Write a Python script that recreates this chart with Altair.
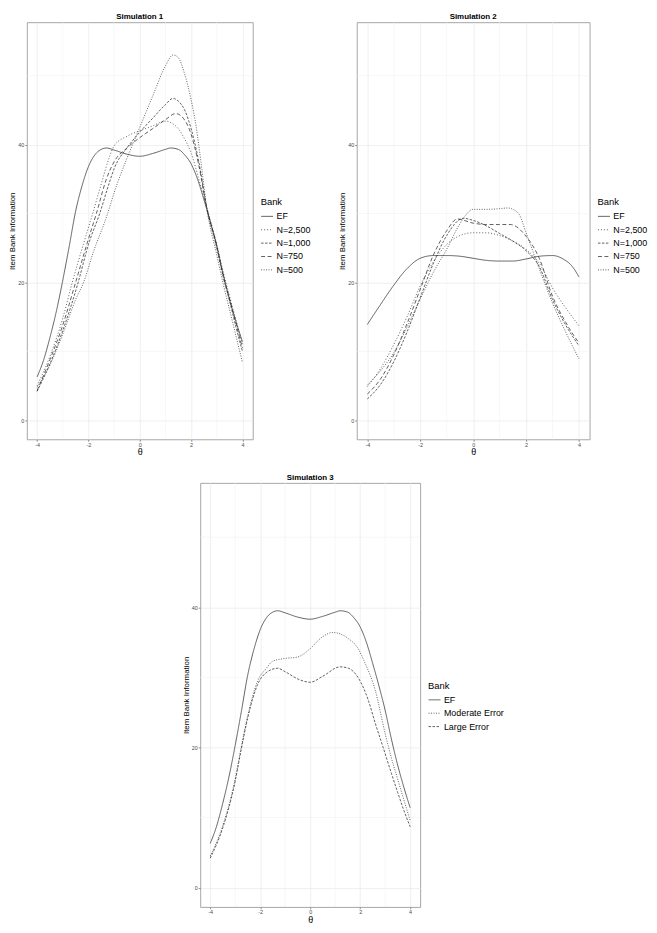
import altair as alt
import pandas as pd

# ---------------- data ----------------
# EF bank (same in Simulation 1 and Simulation 3)
ef_theta = [-4, -3.75, -3.5, -3.25, -3, -2.75, -2.5, -2.25, -2, -1.75, -1.5, -1.3, -1, -0.5, 0,
            0.5, 1, 1.2, 1.5, 1.75, 2, 2.25, 2.5, 2.75, 3, 3.25, 3.5, 3.75, 4]
ef_info = [6.3, 8.7, 12.0, 15.8, 20.3, 25.2, 30.3, 34.0, 36.8, 38.5, 39.3, 39.5, 39.2, 38.6, 38.3,
           38.7, 39.3, 39.5, 39.3, 38.5, 37.2, 35.0, 32.0, 28.8, 25.3, 21.2, 17.5, 14.3, 11.4]

# Simulation 1
s1_n2500_theta = [-4, -3.5, -3, -2.63, -2.2, -1.81, -1.5, -1.2, -1, -0.5, 0, 0.5, 1, 1.25, 1.5,
                  1.75, 2, 2.3, 2.6, 3, 3.25, 3.5, 3.75, 4]
s1_n2500_info = [5.0, 9.3, 14.8, 20.0, 25.5, 30.3, 34.3, 38.0, 39.8, 41.2, 42.0, 42.7, 43.4, 43.1, 42.3,
                 40.8, 38.8, 35.0, 31.0, 25.5, 21.5, 18.0, 14.5, 11.0]
s1_n1000_theta = [-4, -3.5, -3, -2.4, -2, -1.56, -1.2, -1, -0.5, 0, 0.5, 1, 1.3, 1.5, 1.75, 2,
                  2.3, 2.6, 3, 3.25, 3.5, 3.75, 4]
s1_n1000_info = [4.2, 8.2, 13.0, 20.0, 25.5, 30.0, 34.3, 36.5, 39.5, 41.8, 43.8, 45.8, 46.7, 46.3, 45.0, 42.3,
                 37.5, 31.0, 25.0, 20.8, 17.3, 13.5, 10.0]
s1_n750_theta = [-4, -3.5, -3, -2.5, -2, -1.69, -1.3, -1, -0.5, 0, 0.5, 1, 1.4, 1.7, 2, 2.3, 2.6,
                 3, 3.25, 3.5, 3.75, 4]
s1_n750_info = [4.3, 8.8, 13.8, 20.0, 26.3, 30.0, 35.0, 37.5, 39.5, 41.0, 42.3, 43.6, 44.5, 43.8, 41.5, 37.0, 31.0,
                25.3, 21.0, 17.6, 14.0, 10.5]
s1_n500_theta = [-4, -3.5, -3, -2.5, -2.19, -1.8, -1.25, -1, -0.5, 0, 0.5, 1, 1.3, 1.5, 1.75, 2,
                 2.2, 2.4, 2.6, 3, 3.25, 3.5, 3.75, 4]
s1_n500_info = [4.8, 8.0, 12.5, 17.5, 20.0, 24.5, 30.0, 33.0, 38.0, 42.5, 47.0, 51.4, 53.0, 52.6, 50.2, 46.5,
                42.5, 37.0, 31.0, 24.0, 19.8, 16.0, 12.2, 8.4]

# Simulation 2
s2_ef_theta = [-4, -3.5, -3, -2.5, -2, -1.5, -1, -0.5, 0, 0.5, 1, 1.5, 2, 2.5, 3, 3.4, 3.75, 4]
s2_ef_info = [13.9, 16.8, 19.6, 22.0, 23.5, 23.9, 23.9, 23.8, 23.5, 23.2, 23.1, 23.1, 23.4, 23.8, 23.9,
              23.4, 22.3, 20.8]
s2_n2500_theta = [-4, -3.5, -3, -2.5, -2, -1.5, -1, -0.5, 0, 0.5, 1, 1.5, 2, 2.5, 3, 3.5, 4]
s2_n2500_info = [4.9, 7.5, 11.0, 15.0, 19.5, 23.0, 25.5, 26.8, 27.2, 27.2, 26.8, 26.0, 24.8, 22.8, 19.2,
                 16.3, 13.7]
s2_n1000_theta = [-4, -3.5, -3, -2.5, -2, -1.5, -1, -0.37, 0, 0.5, 1, 1.5, 2, 2.5, 3, 3.5, 4]
s2_n1000_info = [3.1, 5.2, 8.5, 12.8, 17.8, 22.8, 26.8, 29.3, 29.0, 28.2, 27.1, 26.0, 24.6, 22.3, 17.5,
                 13.8, 10.8]
s2_n750_theta = [-4, -3.5, -3, -2.5, -2, -1.5, -1, -0.6, 0, 0.5, 1, 1.4, 2, 2.5, 3, 3.5, 4]
s2_n750_info = [3.8, 6.0, 9.5, 14.0, 19.0, 24.0, 27.5, 29.2, 28.6, 28.4, 28.4, 28.4, 26.7, 23.5, 18.0,
                14.2, 11.2]
s2_n500_theta = [-4, -3.5, -3, -2.5, -2, -1.5, -1, -0.5, 0, 0.5, 1, 1.3, 1.5, 1.75, 2, 2.3, 2.5, 3,
                 3.5, 4]
s2_n500_info = [5.1, 7.2, 9.8, 13.5, 17.6, 21.5, 24.8, 28.5, 30.6, 30.6, 30.7, 30.8, 30.6, 29.8, 27.2,
                24.1, 22.0, 17.0, 12.8, 8.9]

# Simulation 3
s3_mod_theta = [-4, -3.5, -3, -2.76, -2.5, -2.1, -1.75, -1.5, -1, -0.5, -0.2, 0, 0.5, 0.9, 1.2, 1.5,
                1.9, 2.2, 2.6, 3, 3.25, 3.5, 3.75, 4]
s3_mod_info = [4.5, 8.8, 15.5, 20.0, 24.5, 29.5, 31.3, 32.3, 32.7, 32.9, 33.5, 34.1, 35.8, 36.4, 36.2, 35.6,
               34.2, 32.0, 28.2, 22.0, 18.5, 15.5, 12.5, 9.6]
s3_large_theta = [-4, -3.5, -3, -2.76, -2.5, -2.1, -1.75, -1.3, -1, -0.45, 0, 0.48, 1.2, 1.53, 1.93,
                  2.32, 2.6, 2.92, 3.25, 3.5, 3.75, 4]
s3_large_info = [4.2, 8.5, 15.2, 19.7, 24.2, 29.0, 30.7, 31.3, 30.8, 29.7, 29.3, 30.1, 31.5, 31.3, 29.9,
                 26.8, 23.5, 20.0, 16.3, 13.6, 11.0, 8.7]

s12_banks = ["EF", "N=2,500", "N=1,000", "N=750", "N=500"]
s12_dashes = [[1, 0], [1, 2], [2.5, 1.5], [4, 2.5], [1, 1.5]]
s3_banks = ["EF", "Moderate Error", "Large Error"]
s3_dashes = [[1, 0], [1, 1.5], [2.5, 1.5]]

x_major = [-4, -2, 0, 2, 4]
x_minor = [-3, -1, 1, 3]
y_major = [0, 20, 40]
y_minor = [10, 30, 50]
x_domain = [-4.4, 4.4]
y_domain = [-2.75, 57.75]


def make_df(series):
    rows = []
    for bank, th, val in series:
        for t, v in zip(th, val):
            rows.append({"theta": t, "info": v, "bank": bank})
    return pd.DataFrame(rows)


def panel(title, series, order, dashes, width, height, legend_y):
    df = make_df(series)
    xs = alt.Scale(domain=x_domain, nice=False, zero=False)
    ys = alt.Scale(domain=y_domain, nice=False, zero=False)
    xaxis = alt.Axis(values=x_major, title="θ", labelExpr="'' + datum.value", grid=True)
    yaxis = alt.Axis(values=y_major, title="Item Bank Information",
                     labelExpr="'' + datum.value", grid=True)
    vminor = alt.Chart(pd.DataFrame({"mx": x_minor})).mark_rule(
        color="#f1f1f1", strokeWidth=0.6).encode(x=alt.X("mx:Q", scale=xs, axis=xaxis))
    hminor = alt.Chart(pd.DataFrame({"my": y_minor})).mark_rule(
        color="#f1f1f1", strokeWidth=0.6).encode(y=alt.Y("my:Q", scale=ys, axis=yaxis))
    lines = alt.Chart(df).mark_line(
        interpolate="monotone", color="#2b2b2b", strokeWidth=0.75).encode(
        x=alt.X("theta:Q", scale=xs, axis=xaxis),
        y=alt.Y("info:Q", scale=ys, axis=yaxis),
        strokeDash=alt.StrokeDash(
            "bank:N", sort=order,
            scale=alt.Scale(domain=order, range=dashes),
            legend=alt.Legend(title="Bank", orient="none", legendX=width + 8, legendY=legend_y,
                              symbolType="stroke", symbolSize=144, symbolStrokeColor="#2b2b2b",
                              symbolStrokeWidth=0.75, labelFontSize=9, titleFontSize=9.5,
                              titleFontWeight="normal", rowPadding=1.5, titlePadding=3,
                              labelOffset=3, labelColor="black", titleColor="black")),
    )
    return alt.layer(vminor, hminor, lines).properties(
        width=width, height=height,
        title=alt.TitleParams(title, fontSize=8, fontWeight="bold", offset=1, anchor="middle"))


c1 = panel("Simulation 1",
           [("EF", ef_theta, ef_info), ("N=2,500", s1_n2500_theta, s1_n2500_info),
            ("N=1,000", s1_n1000_theta, s1_n1000_info), ("N=750", s1_n750_theta, s1_n750_info),
            ("N=500", s1_n500_theta, s1_n500_info)],
           s12_banks, s12_dashes, 228, 421, 177)
c2 = panel("Simulation 2",
           [("EF", s2_ef_theta, s2_ef_info), ("N=2,500", s2_n2500_theta, s2_n2500_info),
            ("N=1,000", s2_n1000_theta, s2_n1000_info), ("N=750", s2_n750_theta, s2_n750_info),
            ("N=500", s2_n500_theta, s2_n500_info)],
           s12_banks, s12_dashes, 235, 421, 177)
c3 = panel("Simulation 3",
           [("EF", ef_theta, ef_info), ("Moderate Error", s3_mod_theta, s3_mod_info),
            ("Large Error", s3_large_theta, s3_large_info)],
           s3_banks, s3_dashes, 222, 428, 200)

# invisible spacer that pushes the third panel towards the centre
spacer = alt.Chart(pd.DataFrame({"s": [0]})).mark_point(opacity=0).encode(
    x=alt.X("s:Q", axis=None), y=alt.Y("s:Q", axis=None)
).properties(width=155, height=1, view=alt.ViewConfig(stroke="transparent"))

top = alt.hconcat(c1, c2, spacing=105, bounds="flush").resolve_scale(
    strokeDash="independent").resolve_legend(strokeDash="independent")
bottom = alt.hconcat(spacer, c3, spacing=0).resolve_scale(
    strokeDash="independent").resolve_legend(strokeDash="independent")
chart = alt.vconcat(top, bottom, spacing=16).resolve_scale(
    strokeDash="independent").resolve_legend(strokeDash="independent").properties(
    padding=0
).configure(font="Liberation Sans").configure_view(
    stroke="#a6a6a6", strokeWidth=1
).configure_axis(
    domain=False, tickColor="#444444", tickSize=2, tickWidth=0.6,
    labelFontSize=5.5, labelColor="#4d4d4d", labelPadding=1,
    titleFontSize=8, titleFontWeight="normal", titleColor="black",
    gridColor="#ebebeb", gridWidth=0.8
).configure_axisX(titleFontSize=9, titlePadding=0).configure_axisY(titlePadding=1)

chart.save("out.html", embed_options={"renderer": "svg", "actions": False})
